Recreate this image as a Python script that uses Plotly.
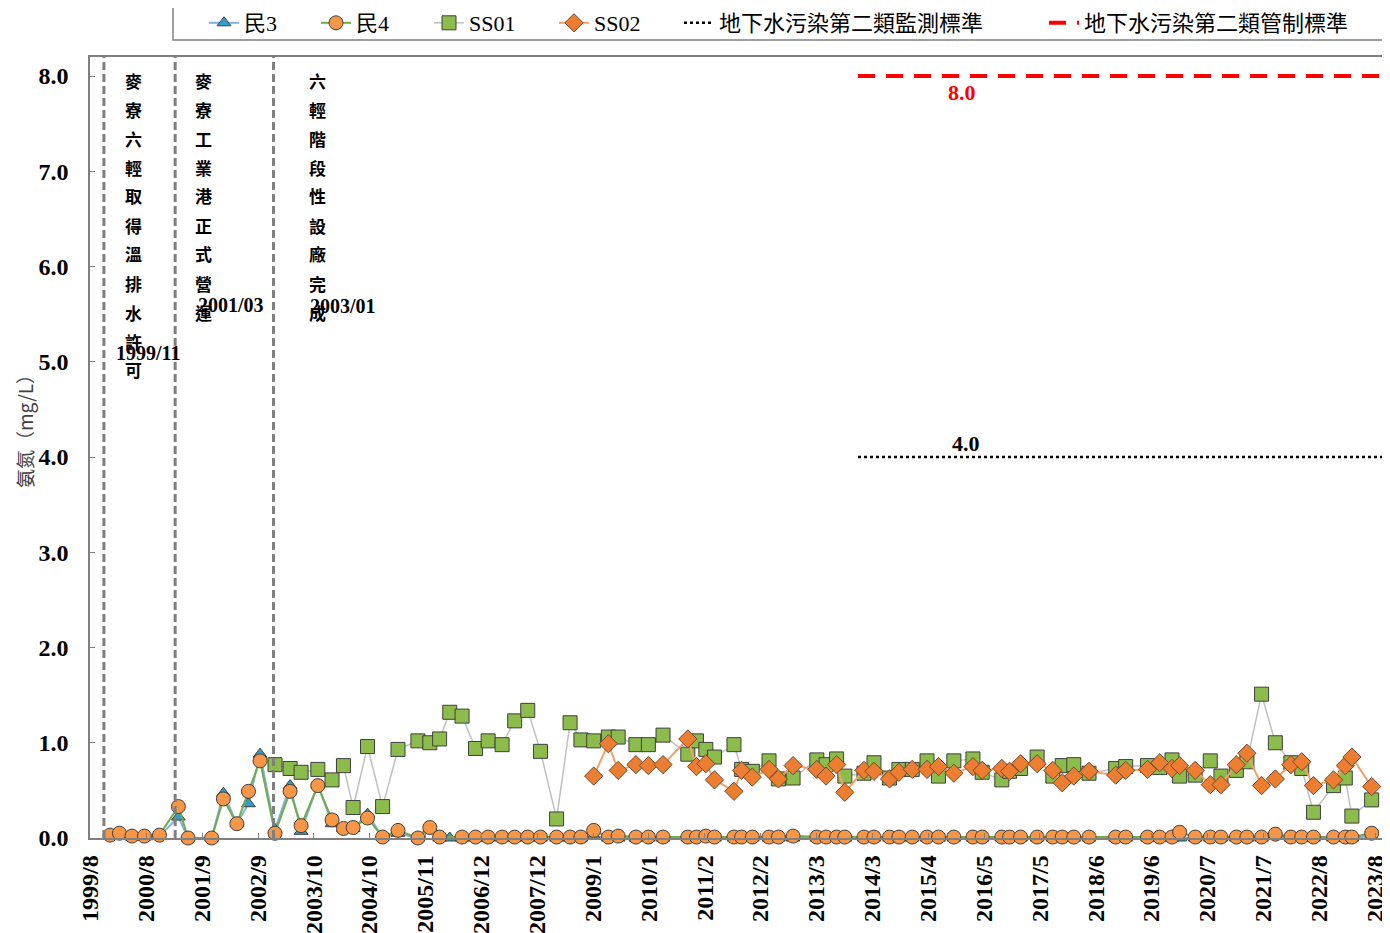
import plotly.graph_objects as go
import pandas as pd

# sampling dates shared by the wells
sample_dates = [
    "1999-12-13", "2000-02-15", "2000-05-10", "2000-08-03", "2000-11-14", "2001-03-23",
    "2001-05-28", "2001-11-05", "2002-01-24", "2002-04-26", "2002-07-14", "2002-10-01",
    "2003-01-11", "2003-04-24", "2003-07-08", "2003-10-30", "2004-02-04", "2004-04-22",
    "2004-06-27", "2004-10-03", "2005-01-14", "2005-04-29", "2005-09-12", "2005-12-02",
    "2006-02-07", "2006-04-17", "2006-07-10", "2006-10-10", "2007-01-04", "2007-04-09",
    "2007-07-04", "2007-10-01", "2007-12-27", "2008-04-15", "2008-07-16", "2008-09-28",
    "2008-12-24", "2009-04-03", "2009-06-09", "2009-10-08", "2010-01-01", "2010-04-11",
    "2010-09-27", "2010-11-25", "2011-01-28", "2011-03-28", "2011-08-08", "2011-09-29",
    "2011-12-11", "2012-04-03", "2012-06-06", "2012-09-14", "2013-02-23", "2013-04-27",
    "2013-07-08", "2013-09-02", "2014-01-11", "2014-03-20", "2014-07-04", "2014-09-06",
    "2014-12-06", "2015-03-17", "2015-06-03", "2015-09-16", "2016-01-24", "2016-03-27",
    "2016-08-08", "2016-09-30", "2016-12-14", "2017-04-06", "2017-07-22", "2017-09-24",
    "2017-12-12", "2018-03-26", "2018-09-24", "2018-12-01", "2019-04-29", "2019-07-21",
    "2019-10-13", "2019-12-04", "2020-03-19", "2020-06-30", "2020-09-11", "2020-12-25",
    "2021-03-07", "2021-06-15", "2021-09-17", "2022-01-01", "2022-03-16", "2022-06-04",
    "2022-10-19", "2023-01-07", "2023-02-21", "2023-07-06",
]

min3 = [
    0.02, 0.04, 0.01, 0.01, 0.02, 0.22, 0.00, 0.00, 0.47, 0.15, 0.36, 0.88,
    0.09, 0.55, 0.07, 0.56, 0.15, 0.10, 0.10, 0.25, 0.01, 0.05, 0.00, 0.10,
    0.00, 0.00, 0.00, 0.00, 0.00, 0.00, 0.00, 0.00, 0.00, 0.00, 0.00, 0.00,
    0.02, 0.00, 0.00, 0.00, 0.00, 0.00, 0.00, 0.00, 0.00, 0.00, 0.00, 0.00,
    0.00, 0.00, 0.00, 0.00, 0.00, 0.00, 0.00, 0.00, 0.00, 0.00, 0.00, 0.00,
    0.00, 0.00, 0.00, 0.00, 0.00, 0.00, 0.00, 0.00, 0.00, 0.00, 0.00, 0.00,
    0.00, 0.00, 0.00, 0.00, 0.00, 0.00, 0.00, 0.00, 0.00, 0.00, 0.00, 0.00,
    0.00, 0.00, 0.02, 0.00, 0.00, 0.00, 0.00, 0.00, 0.00, 0.02,
]

min4 = [
    0.03, 0.05, 0.02, 0.02, 0.03, 0.33, 0.00, 0.00, 0.41, 0.15, 0.49, 0.81,
    0.05, 0.49, 0.13, 0.55, 0.19, 0.10, 0.11, 0.21, 0.01, 0.08, 0.00, 0.11,
    0.01, None, 0.01, 0.01, 0.01, 0.01, 0.01, 0.01, 0.01, 0.01, 0.01, 0.01,
    0.08, 0.01, 0.02, 0.01, 0.01, 0.01, 0.01, 0.01, 0.02, 0.01, 0.01, 0.01,
    0.01, 0.01, 0.01, 0.02, 0.01, 0.01, 0.01, 0.01, 0.01, 0.01, 0.01, 0.01,
    0.01, 0.01, 0.01, 0.01, 0.01, 0.01, 0.01, 0.01, 0.01, 0.01, 0.01, 0.01,
    0.01, 0.01, 0.01, 0.01, 0.01, 0.01, 0.01, 0.06, 0.01, 0.01, 0.01, 0.01,
    0.01, 0.01, 0.04, 0.01, 0.01, 0.01, 0.01, 0.01, 0.01, 0.05,
]

# SS01 starts at the 2003-01 sampling, SS02 at 2008-12
ss01_first = 12
ss01 = [
    0.77, 0.73, 0.69, 0.72, 0.61, 0.76, 0.32, 0.96, 0.33, 0.93, 1.02, 1.00,
    1.04, 1.32, 1.28, 0.94, 1.02, 0.98, 1.23, 1.34, 0.91, 0.20, 1.21, 1.03,
    1.02, 1.06, 1.06, 0.98, 0.98, 1.08, 0.88, 1.02, 0.93, 0.85, 0.98, 0.72,
    0.70, 0.81, 0.62, 0.63, 0.82, 0.77, 0.83, 0.65, 0.68, 0.79, 0.63, 0.72,
    0.72, 0.81, 0.65, 0.81, 0.83, 0.69, 0.61, 0.70, 0.73, 0.85, 0.65, 0.76,
    0.77, 0.68, 0.73, 0.75, 0.76, 0.74, 0.82, 0.65, 0.66, 0.81, 0.65, 0.71,
    0.80, 1.51, 1.00, 0.79, 0.73, 0.27, 0.55, 0.63, 0.23, 0.40,
]

ss02_first = 36
ss02 = [
    0.65, 0.99, 0.71, 0.77, 0.76, 0.77, 1.04, 0.75, 0.78, 0.61, 0.49, 0.71,
    0.64, 0.72, 0.62, 0.76, 0.72, 0.65, 0.77, 0.48, 0.71, 0.70, 0.62, 0.69,
    0.72, 0.72, 0.75, 0.68, 0.75, 0.71, 0.73, 0.70, 0.78, 0.78, 0.71, 0.58,
    0.65, 0.70, 0.66, 0.71, 0.72, 0.79, 0.73, 0.76, 0.71, 0.56, 0.56, 0.77,
    0.89, 0.55, 0.62, 0.77, 0.80, 0.55, 0.61, 0.76, 0.85, 0.54,
]

monitor_std = 4.0
control_std = 8.0
std_period = ["2013-12-01", "2023-10-05"]

events = [
    ("1999-11-01", "麥寮六輕取得溫排水許可", "1999/11"),
    ("2001-03-01", "麥寮工業港正式營運", "2001/03"),
    ("2003-01-01", "六輕階段性設廠完成", "2003/01"),
]

tick_labels = [
    "1999/8", "2000/8", "2001/9", "2002/9", "2003/10", "2004/10", "2005/11", "2006/12",
    "2007/12", "2009/1", "2010/1", "2011/2", "2012/2", "2013/3", "2014/3", "2015/4",
    "2016/5", "2017/5", "2018/6", "2019/6", "2020/7", "2021/7", "2022/8", "2023/8",
]
tick_dates = pd.date_range("1999-08-01", periods=len(tick_labels), freq="381D")

# the page body adds an 8px offset, so the figure is drawn that much smaller
OFF = 8
W, H = 1390 - OFF, 933 - OFF
# plot area in page pixels
PL, PR, PT, PB = 90, 1385, 57, 838


def px(x):
    return (x - PL) / (PR - PL)


def py(y):
    return (PB - y) / (PB - PT)


SERIF = "Liberation Serif, Times New Roman, Noto Sans CJK TC"
CJK = "Noto Sans CJK TC"
EDGE = "#3f3f3f"

# each legend entry gets its own legend so the spacing follows the original
legend_text_x = [250, 362, 475, 600, 725, 1090]

fig = go.Figure()

fig.add_trace(go.Scatter(
    x=sample_dates, y=min3, name="民3", mode="lines+markers",
    line=dict(color="#7fb0e0", width=2),
    marker=dict(symbol="triangle-up", size=12, color="#2f9fcb", line=dict(color=EDGE, width=1)),
    connectgaps=True, cliponaxis=False, legend="legend",
))
fig.add_trace(go.Scatter(
    x=sample_dates, y=min4, name="民4", mode="lines+markers",
    line=dict(color="#70ad47", width=2),
    marker=dict(symbol="circle", size=14, color="#f79646", line=dict(color=EDGE, width=1)),
    connectgaps=True, cliponaxis=False, legend="legend2",
))
fig.add_trace(go.Scatter(
    x=sample_dates[ss01_first:], y=ss01, name="SS01", mode="lines+markers",
    line=dict(color="#c0c0c0", width=1.5),
    marker=dict(symbol="square", size=14, color="#8cbd4c", line=dict(color=EDGE, width=1)),
    cliponaxis=False, legend="legend3",
))
fig.add_trace(go.Scatter(
    x=sample_dates[ss02_first:], y=ss02, name="SS02", mode="lines+markers",
    line=dict(color="#f4a06a", width=2),
    marker=dict(symbol="diamond", size=14, color="#ed7d31", line=dict(color="#6b4a30", width=1)),
    cliponaxis=False, legend="legend4",
))
fig.add_trace(go.Scatter(
    x=std_period, y=[monitor_std, monitor_std], name="地下水污染第二類監測標準",
    mode="lines", line=dict(color="black", width=2.5, dash="3px,3px"), legend="legend5",
))
fig.add_trace(go.Scatter(
    x=std_period, y=[control_std, control_std], name="地下水污染第二類管制標準",
    mode="lines", line=dict(color="red", width=4, dash="17px,11px"), legend="legend6",
))

annotations = []
col_x = [133, 203, 317]
date_xy = [(148, 353), (231, 305), (343, 306)]
for (d, txt, lab), cx, (dx, dy) in zip(events, col_x, date_xy):
    fig.add_shape(type="line", x0=d, x1=d, xref="x", y0=0, y1=1, yref="paper",
                  line=dict(color="#7f7f7f", width=3, dash="8px,4px"))
    for i, ch in enumerate(txt):
        annotations.append(dict(
            x=px(cx), y=py(80 + 29 * i), xref="paper", yref="paper", text=ch,
            xanchor="center", yanchor="middle", showarrow=False,
            font=dict(family=CJK, size=17, color="black", weight="bold"),
        ))
    annotations.append(dict(
        x=px(dx), y=py(dy), xref="paper", yref="paper", text=lab,
        xanchor="center", yanchor="middle", showarrow=False,
        font=dict(family=SERIF, size=20, color="black", weight="bold"),
    ))

annotations.append(dict(
    x=px(966), y=monitor_std, xref="paper", yref="y", yshift=14,
    xanchor="center", yanchor="middle",
    text=f"{monitor_std:.1f}", showarrow=False,
    font=dict(family=SERIF, size=22, color="black", weight="bold"),
))
annotations.append(dict(
    x=px(962), y=control_std, xref="paper", yref="y", yshift=-16,
    xanchor="center", yanchor="middle",
    text=f"{control_std:.1f}", showarrow=False,
    font=dict(family=SERIF, size=22, color="red", weight="bold"),
))
annotations.append(dict(
    x=px(24), y=py(427), xref="paper", yref="paper", text="氨氮（mg/L）",
    xanchor="center", yanchor="middle", textangle=-90, showarrow=False,
    font=dict(family=CJK, size=19, color="#404040"),
))

# frame around the legend row
fig.add_shape(type="rect", xref="paper", yref="paper",
              x0=px(173), x1=px(1387), y0=py(40), y1=py(7),
              line=dict(color="#808080", width=1.5), fillcolor="white", layer="below")

legends = {}
for i, tx in enumerate(legend_text_x):
    key = "legend" if i == 0 else f"legend{i + 1}"
    legends[key] = dict(
        orientation="h", x=px(tx - 46), xanchor="left", y=py(23), yanchor="middle",
        bgcolor="rgba(0,0,0,0)", borderwidth=0,
        font=dict(family=SERIF, size=22, color="black"),
    )

fig.update_layout(
    width=W, height=H, autosize=False,
    margin=dict(l=PL - OFF, r=W + OFF - PR, t=PT - OFF, b=H + OFF - PB, autoexpand=False),
    paper_bgcolor="white", plot_bgcolor="white",
    annotations=annotations,
    showlegend=True,
    xaxis=dict(
        type="date", range=["1999-07-29", "2023-10-05"],
        tickmode="array", tickvals=tick_dates, ticktext=tick_labels,
        tickangle=-90, ticks="inside", ticklen=5, tickcolor="#7f7f7f",
        ticklabelstandoff=6,
        tickfont=dict(family=SERIF, size=24, color="black", weight="bold"),
        showline=True, linecolor="#808080", linewidth=1.5, mirror=True,
        showgrid=False, zeroline=False,
    ),
    yaxis=dict(
        range=[0, 8.2], tickmode="array", tickvals=[0, 1, 2, 3, 4, 5, 6, 7, 8],
        tickformat=".1f", ticks="inside", ticklen=5, tickcolor="#7f7f7f",
        ticklabelstandoff=15,
        tickfont=dict(family=SERIF, size=24, color="black", weight="bold"),
        showline=True, linecolor="#808080", linewidth=1.5, mirror=True,
        showgrid=False, zeroline=False,
    ),
    **legends,
)

fig.write_html("out.html")
